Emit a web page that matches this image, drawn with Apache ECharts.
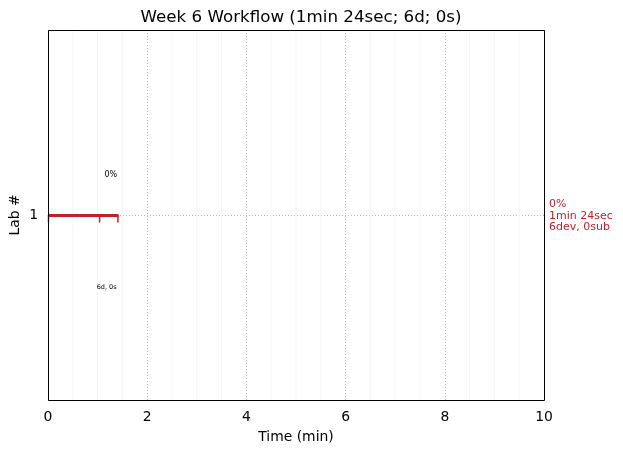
<!DOCTYPE html>
<html><head><meta charset="utf-8">
<script src="https://cdn.jsdelivr.net/npm/echarts@6/dist/echarts.min.js"></script>
<style>html,body{margin:0;padding:0;background:#fff}#c{width:623px;height:453px}</style>
</head><body><div id="c"></div>
<script>
const labs = [1];
const durations = [1.4];            // minutes
const eventTimes = [0, 1.03, 1.4];  // tick marks on the bar
const pctLabels = ['0%'];
const countLabels = ['6d, 0s'];
const sideLabels = ['0%\n1min 24sec\n6dev, 0sub'];
const xTicks = [0, 2, 4, 6, 8, 10];
const minorTicks = [0.5,1,1.5,2.5,3,3.5,4.5,5,5.5,6.5,7,7.5,8.5,9,9.5];

const red = '#c4202a';
const font = 'DejaVu Sans';
const chart = echarts.init(document.getElementById('c'));
chart.setOption({
  animation: false,
  title: {text: 'Week 6 Workflow (1min 24sec; 6d; 0s)', left: 296, top: 4, textAlign: 'center',
    textStyle: {fontFamily: font, fontSize: 16.7, fontWeight: 'normal', color: '#000'}},
  grid: {left: 48, right: 79, top: 30, bottom: 53, outerBoundsMode: 'none', containLabel: false},
  xAxis: {type: 'value', min: 0, max: 10, interval: 2,
    name: 'Time (min)', nameLocation: 'middle', nameGap: 30, nameMoveOverlap: false,
    nameTextStyle: {fontFamily: font, fontSize: 13.9, color: '#000'},
    axisLine: {show: false}, axisTick: {show: false},
    axisLabel: {fontFamily: font, fontSize: 13.9, color: '#000', margin: 10},
    splitLine: {show: true, lineStyle: {color: '#bbb', type: [1, 2], width: 1}}},
  yAxis: {type: 'value', min: 0, max: 2, interval: 1,
    name: 'Lab #', nameLocation: 'middle', nameGap: 26, nameMoveOverlap: false,
    nameTextStyle: {fontFamily: font, fontSize: 13.9, color: '#000'},
    axisLine: {show: false}, axisTick: {show: false},
    axisLabel: {fontFamily: font, fontSize: 13.9, color: '#000', margin: 10,
      formatter: v => labs.includes(v) ? String(v) : ''},
    splitLine: {show: true, lineStyle: {color: '#bbb', type: [1, 2], width: 1}}},
  series: [
    {type: 'custom', silent: true, z: 1,
     data: minorTicks.map(t => [t]),
     renderItem: (p, api) => {
       const a = api.coord([api.value(0), 0]), b = api.coord([api.value(0), 2]);
       return {type: 'line', shape: {x1: a[0], y1: a[1], x2: b[0], y2: b[1]},
         style: {stroke: '#f6f6f6', lineWidth: 1}};
     }},
    {type: 'custom', silent: true, z: 5,
     data: labs.map((l, i) => [0, durations[i], l]),
     renderItem: (p, api) => {
       const a = api.coord([api.value(0), api.value(2)]), b = api.coord([api.value(1), api.value(2)]);
       return {type: 'line', shape: {x1: a[0], y1: a[1] + 0.5, x2: b[0] + 1, y2: b[1] + 0.5},
         style: {stroke: red, lineWidth: 3}};
     }},
    {type: 'custom', silent: true, z: 5,
     data: eventTimes.map(t => [t, labs[0]]),
     renderItem: (p, api) => {
       const a = api.coord([api.value(0), api.value(1)]);
       return {type: 'line', shape: {x1: a[0] + 0.5, y1: a[1], x2: a[0] + 0.5, y2: a[1] + 7.5},
         style: {stroke: red, lineWidth: 1.5}};
     }},
    {type: 'custom', silent: true, z: 6,
     data: labs.map((l, i) => [durations[i], l, i]),
     renderItem: (p, api) => {
       const i = api.value(2);
       const top = api.coord([api.value(0) * 0.905, api.value(1) + 0.216]);
       const bot = api.coord([api.value(0) * 0.845, api.value(1) - 0.39]);
       return {type: 'group', children: [
         {type: 'text', style: {x: top[0], y: top[1], text: pctLabels[i], fill: '#000',
           font: '8px DejaVu Sans', align: 'center', verticalAlign: 'middle'}},
         {type: 'text', style: {x: bot[0], y: bot[1], text: countLabels[i], fill: '#000',
           font: '6.5px DejaVu Sans', align: 'center', verticalAlign: 'middle'}}
       ]};
     }}
  ],
  graphic: [
    {type: 'rect', shape: {x: 48.5, y: 30.5, width: 496, height: 370}, z: 10,
     style: {fill: 'none', stroke: '#000', lineWidth: 1}, silent: true},
    {type: 'text', left: 549, top: 198, z: 10,
     style: {text: sideLabels[0], fill: red, font: '11px DejaVu Sans', lineHeight: 11.8}}
  ]
});
</script></body></html>
